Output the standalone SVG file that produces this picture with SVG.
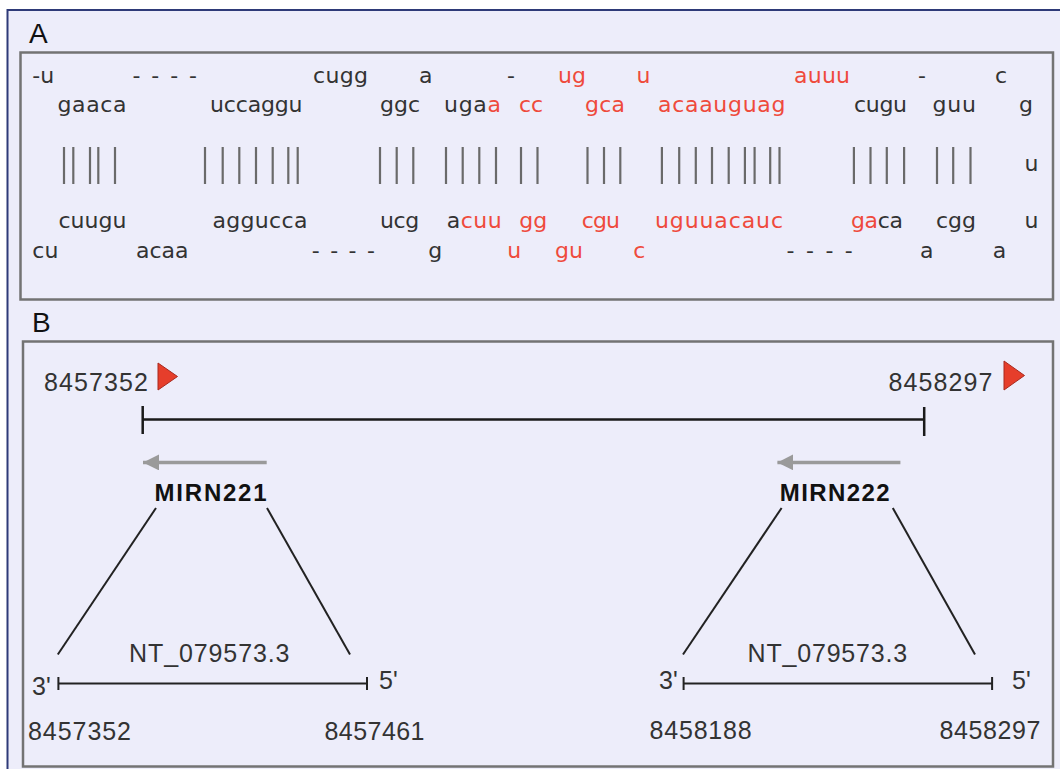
<svg xmlns="http://www.w3.org/2000/svg" width="1060" height="769" viewBox="0 0 1060 769">
<style>
.bg{fill:#ededfa}
.frame{fill:#ededfa;stroke:#2e3a78;stroke-width:2}
.box{fill:#ededfa;stroke:#737373;stroke-width:2.5}
.lbl{font-family:"Liberation Sans",Arial,sans-serif;font-size:28px;fill:#111}
.s{font-family:"DejaVu Sans",Verdana,sans-serif;font-size:22px;fill:#333}
.r{fill:#ef4a3c}
.bar{stroke:#6a6a6a;stroke-width:2.2}
.n{font-family:"Liberation Sans",Arial,sans-serif;font-size:25px;fill:#333}
.g{font-family:"Liberation Sans",Arial,sans-serif;font-size:24px;font-weight:bold;fill:#111}
.ln{stroke:#1a1a1a;stroke-width:2.5;fill:none}
.dg{stroke:#222;stroke-width:2;fill:none}
.ga{stroke:#9a9a9a;stroke-width:3.5;fill:none}
.tri{fill:#e63e2b;stroke:#a8291e;stroke-width:1}
</style>
<defs>
<marker id="ah" markerUnits="userSpaceOnUse" markerWidth="18" markerHeight="16" refX="16" refY="8" orient="auto">
<path d="M0,0 L16,8 L0,16 Z" fill="#9a9a9a"/>
</marker>
</defs>
<rect x="0" y="0" width="1060" height="769" fill="#ffffff"/>
<rect class="frame" x="7.5" y="10" width="1070" height="780"/>

<g id="panelA">
<rect class="box" x="20.5" y="52.5" width="1032.5" height="247"/>
<text class="lbl" x="29" y="43">A</text>
<g id="row1">
<text class="s" x="32.3" y="83">-u</text>
<text class="s" x="132.5" y="83" textLength="64.5" lengthAdjust="spacing">----</text>
<text class="s" x="313" y="83" textLength="55">cugg</text>
<text class="s" x="419" y="83">a</text>
<text class="s" x="507" y="83">-</text>
<text class="s r" x="558" y="83">ug</text>
<text class="s r" x="636.5" y="83">u</text>
<text class="s r" x="794" y="83" textLength="56">auuu</text>
<text class="s" x="918" y="83">-</text>
<text class="s" x="995" y="83">c</text>
</g>
<g id="row2">
<text class="s" x="57.5" y="111.5" textLength="69">gaaca</text>
<text class="s" x="210" y="111.5" textLength="92.5">uccaggu</text>
<text class="s" x="380" y="111.5" textLength="40">ggc</text>
<text class="s" x="444" y="111.5" textLength="57">uga<tspan class="r">a</tspan></text>
<text class="s r" x="519" y="111.5">cc</text>
<text class="s r" x="585" y="111.5" textLength="40">gca</text>
<text class="s r" x="658" y="111.5" textLength="127.5">acaauguag</text>
<text class="s" x="854" y="111.5" textLength="53">cugu</text>
<text class="s" x="932.5" y="111.5" textLength="43.5">guu</text>
<text class="s" x="1019" y="111.5">g</text>
</g>
<g id="pairs">
<line class="bar" x1="64" y1="147" x2="64" y2="184"/>
<line class="bar" x1="73.3" y1="147" x2="73.3" y2="184"/>
<line class="bar" x1="90" y1="147" x2="90" y2="184"/>
<line class="bar" x1="98.3" y1="147" x2="98.3" y2="184"/>
<line class="bar" x1="115" y1="147" x2="115" y2="184"/>
<line class="bar" x1="205" y1="147" x2="205" y2="184"/>
<line class="bar" x1="222.7" y1="147" x2="222.7" y2="184"/>
<line class="bar" x1="239.3" y1="147" x2="239.3" y2="184"/>
<line class="bar" x1="256" y1="147" x2="256" y2="184"/>
<line class="bar" x1="272.7" y1="147" x2="272.7" y2="184"/>
<line class="bar" x1="288.3" y1="147" x2="288.3" y2="184"/>
<line class="bar" x1="297.7" y1="147" x2="297.7" y2="184"/>
<line class="bar" x1="380" y1="147" x2="380" y2="184"/>
<line class="bar" x1="396.7" y1="147" x2="396.7" y2="184"/>
<line class="bar" x1="413.3" y1="147" x2="413.3" y2="184"/>
<line class="bar" x1="446" y1="147" x2="446" y2="184"/>
<line class="bar" x1="462.7" y1="147" x2="462.7" y2="184"/>
<line class="bar" x1="479.3" y1="147" x2="479.3" y2="184"/>
<line class="bar" x1="496" y1="147" x2="496" y2="184"/>
<line class="bar" x1="521" y1="147" x2="521" y2="184"/>
<line class="bar" x1="537.5" y1="147" x2="537.5" y2="184"/>
<line class="bar" x1="587.5" y1="147" x2="587.5" y2="184"/>
<line class="bar" x1="604" y1="147" x2="604" y2="184"/>
<line class="bar" x1="620.3" y1="147" x2="620.3" y2="184"/>
<line class="bar" x1="661.9" y1="147" x2="661.9" y2="184"/>
<line class="bar" x1="679.2" y1="147" x2="679.2" y2="184"/>
<line class="bar" x1="695.8" y1="147" x2="695.8" y2="184"/>
<line class="bar" x1="712" y1="147" x2="712" y2="184"/>
<line class="bar" x1="728.7" y1="147" x2="728.7" y2="184"/>
<line class="bar" x1="744.9" y1="147" x2="744.9" y2="184"/>
<line class="bar" x1="754.6" y1="147" x2="754.6" y2="184"/>
<line class="bar" x1="770.2" y1="147" x2="770.2" y2="184"/>
<line class="bar" x1="779.5" y1="147" x2="779.5" y2="184"/>
<line class="bar" x1="853.9" y1="147" x2="853.9" y2="184"/>
<line class="bar" x1="870.5" y1="147" x2="870.5" y2="184"/>
<line class="bar" x1="886.8" y1="147" x2="886.8" y2="184"/>
<line class="bar" x1="904.1" y1="147" x2="904.1" y2="184"/>
<line class="bar" x1="937" y1="147" x2="937" y2="184"/>
<line class="bar" x1="953.2" y1="147" x2="953.2" y2="184"/>
<line class="bar" x1="970.5" y1="147" x2="970.5" y2="184"/>
<text class="s" x="1024.5" y="170.5">u</text>
</g>
<g id="row3">
<text class="s" x="58.4" y="227.5" textLength="68">cuugu</text>
<text class="s" x="212.4" y="227.5" textLength="95">aggucca</text>
<text class="s" x="380" y="227.5" textLength="39.3">ucg</text>
<text class="s" x="446.7" y="227.5" textLength="55">a<tspan class="r">cuu</tspan></text>
<text class="s r" x="519.3" y="227.5">gg</text>
<text class="s r" x="581.7" y="227.5" textLength="38.3">cgu</text>
<text class="s r" x="655" y="227.5" textLength="128">uguuacauc</text>
<text class="s" x="851" y="227.5" textLength="52"><tspan class="r">ga</tspan>ca</text>
<text class="s" x="936" y="227.5" textLength="40">cgg</text>
<text class="s" x="1024.4" y="227.5">u</text>
</g>
<g id="row4">
<text class="s" x="32.3" y="258">cu</text>
<text class="s" x="136" y="258" textLength="52.6">acaa</text>
<text class="s" x="311.7" y="258" textLength="63.3" lengthAdjust="spacing">----</text>
<text class="s" x="428.3" y="258">g</text>
<text class="s r" x="507.3" y="258">u</text>
<text class="s r" x="555" y="258">gu</text>
<text class="s r" x="633.3" y="258">c</text>
<text class="s" x="786.5" y="258" textLength="66.3" lengthAdjust="spacing">----</text>
<text class="s" x="920" y="258">a</text>
<text class="s" x="992.8" y="258">a</text>
</g>
</g>

<g id="panelB">
<rect class="box" x="23" y="341.5" width="1030" height="425"/>
<text class="lbl" x="32" y="332">B</text>
</g>

<g id="locus">
<text class="n" x="44" y="391" textLength="104">8457352</text>
<polygon class="tri" points="158,363 177.5,376.5 158,390"/>
<text class="n" x="888.5" y="391" textLength="104">8458297</text>
<polygon class="tri" points="1004,361 1024.5,375.5 1004,390"/>
</g>

<g id="MIRN221">
<text class="g" x="154.6" y="501" textLength="112">MIRN221</text>
</g>
<g id="MIRN222">
<text class="g" x="779.7" y="501" textLength="110">MIRN222</text>
</g>

<g id="segment221">
<text class="n" x="129" y="662" font-size="24" textLength="160.5">NT_079573.3</text>
<text class="n" x="32" y="695">3'</text>
<text class="n" x="379" y="689">5'</text>
<text class="n" x="28" y="739.5" textLength="103">8457352</text>
<text class="n" x="324.5" y="740" textLength="100">8457461</text>
</g>
<g id="segment222">
<text class="n" x="747.5" y="662" font-size="24" textLength="159.7">NT_079573.3</text>
<text class="n" x="659" y="689">3'</text>
<text class="n" x="1012" y="689">5'</text>
<text class="n" x="649.6" y="739" textLength="102">8458188</text>
<text class="n" x="939.4" y="739" textLength="101">8458297</text>
</g>

<g id="connectors">
<path class="ln" d="M142.7,419.5 H924.2 M142.7,406 V434 M924.2,407 V436"/>
<line class="ga" x1="266.7" y1="462.4" x2="143" y2="462.4" marker-end="url(#ah)"/>
<line class="ga" x1="900.4" y1="462.4" x2="777.4" y2="462.4" marker-end="url(#ah)"/>
<line class="dg" x1="156" y1="508" x2="57.8" y2="654.5"/>
<line class="dg" x1="267" y1="508" x2="350" y2="654.5"/>
<line class="dg" x1="781.6" y1="508" x2="683" y2="654.5"/>
<line class="dg" x1="892.8" y1="508" x2="975" y2="654.5"/>
<path class="dg" d="M58.4,683.6 H367 M58.4,677 V690 M367,677 V690"/>
<path class="dg" d="M683.6,683.6 H992.1 M683.6,677 V690 M992.1,677 V690"/>
</g>
</svg>
